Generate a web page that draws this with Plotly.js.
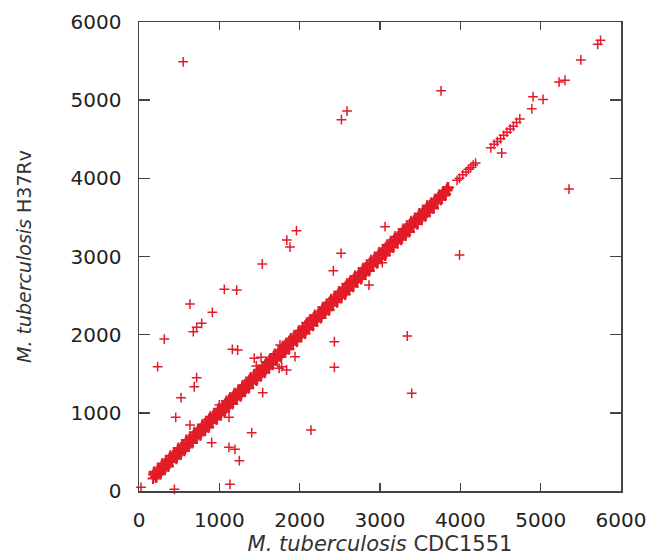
<!DOCTYPE html>
<html>
<head>
<meta charset="utf-8">
<script src="https://cdn.plot.ly/plotly-3.0.1.min.js"></script>
<style>html,body{margin:0;padding:0;background:#fff;}#chart{width:655px;height:556px;}</style>
</head>
<body>
<div id="chart"></div>
<script>
// Dense ortholog band (CDC1551 position, H37Rv position)
const bandX = [175,200,225,250,275,300,325,350,375,400,425,450,475,500,525,550,575,600,625,650,675,700,725,750,775,800,825,850,875,900,925,950,975,1000,1025,1050,1075,1100,1125,1150,1175,1200,1225,1250,1275,1300,1325,1350,1375,1400,1425,1450,1475,1500,1525,1550,1575,1600,1625,1650,1675,1700,1725,1750,1775,1800,1825,1850,1875,1900,1925,1950,1975,2000,2025,2050,2075,2100,2125,2150,2175,2200,2225,2250,2275,2300,2325,2350,2375,2400,2425,2450,2475,2500,2525,2550,2575,2600,2625,2650,2675,2700,2725,2750,2775,2800,2825,2850,2875,2900,2925,2950,2975,3000,3025,3050,3075,3100,3125,3150,3175,3200,3225,3250,3275,3300,3325,3350,3375,3400,3425,3450,3475,3500,3525,3550,3575,3600,3625,3650,3680,3710,3740,3770,3800,3830,3850];
const bandY = [160,215,205,270,255,320,300,335,395,380,445,430,460,525,505,570,550,585,650,630,700,680,715,790,760,835,805,845,920,880,960,935,970,1045,1005,1090,1060,1095,1170,1130,1210,1185,1220,1295,1255,1340,1310,1345,1420,1380,1465,1435,1470,1545,1505,1590,1560,1595,1670,1630,1715,1685,1720,1795,1755,1840,1810,1845,1920,1880,1965,1935,1970,2045,2005,2090,2060,2095,2170,2130,2215,2185,2220,2290,2255,2335,2310,2345,2415,2380,2460,2435,2470,2540,2505,2585,2560,2595,2665,2630,2710,2685,2720,2790,2755,2835,2810,2845,2915,2880,2960,2935,2970,3040,3005,3085,3060,3095,3165,3130,3210,3185,3220,3290,3255,3335,3310,3345,3415,3380,3460,3435,3470,3540,3505,3585,3560,3600,3650,3640,3700,3720,3770,3780,3830,3845,3880];

const band2X = [190,215,240,265,290,315,340,365,390,415,440,465,490,515,540,565,590,615,640,665,690,715,740,765,790,815,840,865,890,915,940,965,990,1015,1040,1065,1090,1115,1140,1165,1190,1215,1240,1265,1290,1315,1340,1365,1390,1415,1440,1465,1490,1515,1540,1565,1590,1615,1640,1665,1690,1715,1740,1765,1790,1815,1840,1865,1890,1915,1940,1965,1990,2015,2040,2065,2090,2115,2140,2165,2190,2215,2240,2265,2290,2315,2340,2365,2390,2415,2440,2465,2490,2515,2540,2565,2590,2615,2640,2665,2690,2715,2740,2765,2790,2815,2840,2865,2890,2915,2940,2965,2990,3015,3040,3065,3090,3115,3140,3165,3190,3215,3240,3265,3290,3315,3340,3365,3390,3415,3440,3465,3490,3515,3540,3565,3590,3615,3640,3665,3690,3715,3740,3765,3790,3815,3840];
const band2Y = [245,175,285,215,350,280,385,315,450,375,485,415,550,475,585,515,650,575,685,615,750,675,785,715,850,775,885,815,950,875,985,915,1050,975,1085,1015,1150,1075,1185,1115,1250,1175,1285,1215,1350,1275,1385,1315,1450,1375,1485,1415,1550,1475,1585,1515,1650,1575,1685,1615,1750,1675,1785,1715,1850,1775,1885,1815,1950,1875,1985,1915,2050,1975,2085,2015,2150,2075,2185,2115,2250,2175,2285,2215,2350,2275,2385,2315,2450,2375,2485,2415,2550,2475,2585,2515,2650,2575,2685,2615,2750,2675,2785,2715,2850,2775,2885,2815,2950,2875,2985,2915,3050,2975,3085,3015,3150,3075,3185,3115,3250,3175,3285,3215,3350,3275,3385,3315,3450,3375,3485,3415,3550,3475,3585,3515,3650,3575,3685,3615,3730,3690,3790,3740,3830,3800,3880];

const band3X = [183,208,233,258,283,308,333,358,383,408,433,458,483,508,533,558,583,608,633,658,683,708,733,758,783,808,833,858,883,908,933,958,983,1008,1033,1058,1083,1108,1133,1158,1183,1208,1233,1258,1283,1308,1333,1358,1383,1408,1433,1458,1483,1508,1533,1558,1583,1608,1633,1658,1683,1708,1733,1758,1783,1808,1833,1858,1883,1908,1933,1958,1983,2008,2033,2058,2083,2108,2133,2158,2183,2208,2233,2258,2283,2308,2333,2358,2383,2408,2433,2458,2483,2508,2533,2558,2583,2608,2633,2658,2683,2708,2733,2758,2783,2808,2833,2858,2883,2908,2933,2958,2983,3008,3033,3058,3083,3108,3133,3158,3183,3208,3233,3258,3283,3308,3333,3358,3383,3408,3433,3458,3483,3508,3533,3558,3583,3608,3633,3658,3683,3708,3733,3758,3783,3808,3833];
const band3Y = [213,183,253,228,313,283,353,328,413,383,453,428,513,483,553,528,613,583,653,628,713,683,753,728,813,783,853,828,913,883,953,928,1013,983,1053,1028,1113,1083,1153,1128,1213,1183,1253,1228,1313,1283,1353,1328,1413,1383,1453,1428,1513,1483,1553,1528,1613,1583,1653,1628,1713,1683,1753,1728,1813,1783,1853,1828,1913,1883,1953,1928,2013,1983,2053,2028,2113,2083,2153,2128,2213,2183,2253,2228,2313,2283,2353,2328,2413,2383,2453,2428,2513,2483,2553,2528,2613,2583,2653,2628,2713,2683,2753,2728,2813,2783,2853,2828,2913,2883,2953,2928,3013,2983,3053,3028,3113,3083,3153,3128,3213,3183,3253,3228,3313,3283,3353,3328,3413,3383,3453,3428,3513,3483,3553,3528,3613,3583,3653,3628,3713,3683,3753,3728,3813,3783,3853];

// Sparser collinear points at the high end
const upperX = [3960,3990,4030,4070,4100,4130,4160,4190,4380,4420,4460,4500,4540,4580,4620,4660,4700,4740,4890,4905,5030,5229,5303,5500,5710,5745];
const upperY = [3975,4000,4045,4080,4115,4140,4170,4195,4390,4435,4470,4505,4550,4590,4630,4665,4715,4760,4890,5045,5010,5232,5255,5515,5714,5765];

// Rearranged / off-diagonal genes
const outX = [550,2590,2520,3760,1960,1840,1880,1535,1062,1216,635,913,780,718,676,315,232,1162,1228,1435,1519,1755,1942,1776,1838,1745,718,688,1540,523,457,635,1120,1403,905,1120,1195,1249,1133,25,440,2515,2419,3029,2863,3063,2432,2432,3340,3395,2141,3990,5353,4515,1000,1460];
const outY = [5490,4860,4750,5120,3330,3210,3120,2904,2580,2571,2392,2286,2145,2094,2038,1944,1590,1813,1804,1698,1710,1868,1718,1590,1548,1570,1450,1334,1258,1194,943,844,943,746,618,559,533,388,86,47,22,3040,2818,2921,2635,3381,1910,1582,1983,1250,780,3020,3863,4324,1100,1600];

const xTitle = '<i>M. tuberculosis</i> CDC1551';
const yTitle = '<i>M. tuberculosis</i> H37Rv';
const tickVals = [0,1000,2000,3000,4000,5000,6000];
const tickText = ['0','1000','2000','3000','4000','5000','6000'];

const red = 'rgb(225,28,40)';

const bandTrace = {
  x: bandX.concat(band2X, band3X),
  y: bandY.concat(band2Y, band3Y),
  type: 'scatter', mode: 'markers',
  marker: {symbol: 'cross-thin', size: 8, color: red, line: {color: red, width: 2.2}},
  cliponaxis: false, hoverinfo: 'x+y'
};

const sparseTrace = {
  x: upperX.concat(outX),
  y: upperY.concat(outY),
  type: 'scatter', mode: 'markers',
  marker: {symbol: 'cross-thin', size: 7, color: red, line: {color: red, width: 1.5}},
  cliponaxis: false, hoverinfo: 'x+y'
};

const fontFam = 'DejaVu Sans, Liberation Sans, sans-serif';
const axisCommon = {
  range: [0, 6000],
  tickvals: tickVals,
  ticktext: tickText,
  ticks: 'inside',
  tickcolor: '#444',
  tickwidth: 1.5,
  showline: true,
  linecolor: '#444',
  linewidth: 1.5,
  mirror: 'allticks',
  showgrid: false,
  zeroline: false,
  tickfont: {family: fontFam, size: 20, color: '#222'}
};

const layout = {
  width: 655, height: 556,
  margin: {l: 139, r: 34, t: 22, b: 65},
  paper_bgcolor: '#fff',
  plot_bgcolor: '#fff',
  showlegend: false,
  xaxis: Object.assign({}, axisCommon, {
    ticklen: 8,
    ticklabelstandoff: 10,
    title: {text: xTitle, font: {family: fontFam, size: 21, color: '#333'}, standoff: 6}
  }),
  yaxis: Object.assign({}, axisCommon, {
    ticklen: 11,
    ticklabelstandoff: 12,
    title: {text: yTitle, font: {family: fontFam, size: 19, color: '#333'}, standoff: 34}
  })
};

Plotly.newPlot('chart', [bandTrace, sparseTrace], layout, {displayModeBar: false, staticPlot: true});
</script>
</body>
</html>
